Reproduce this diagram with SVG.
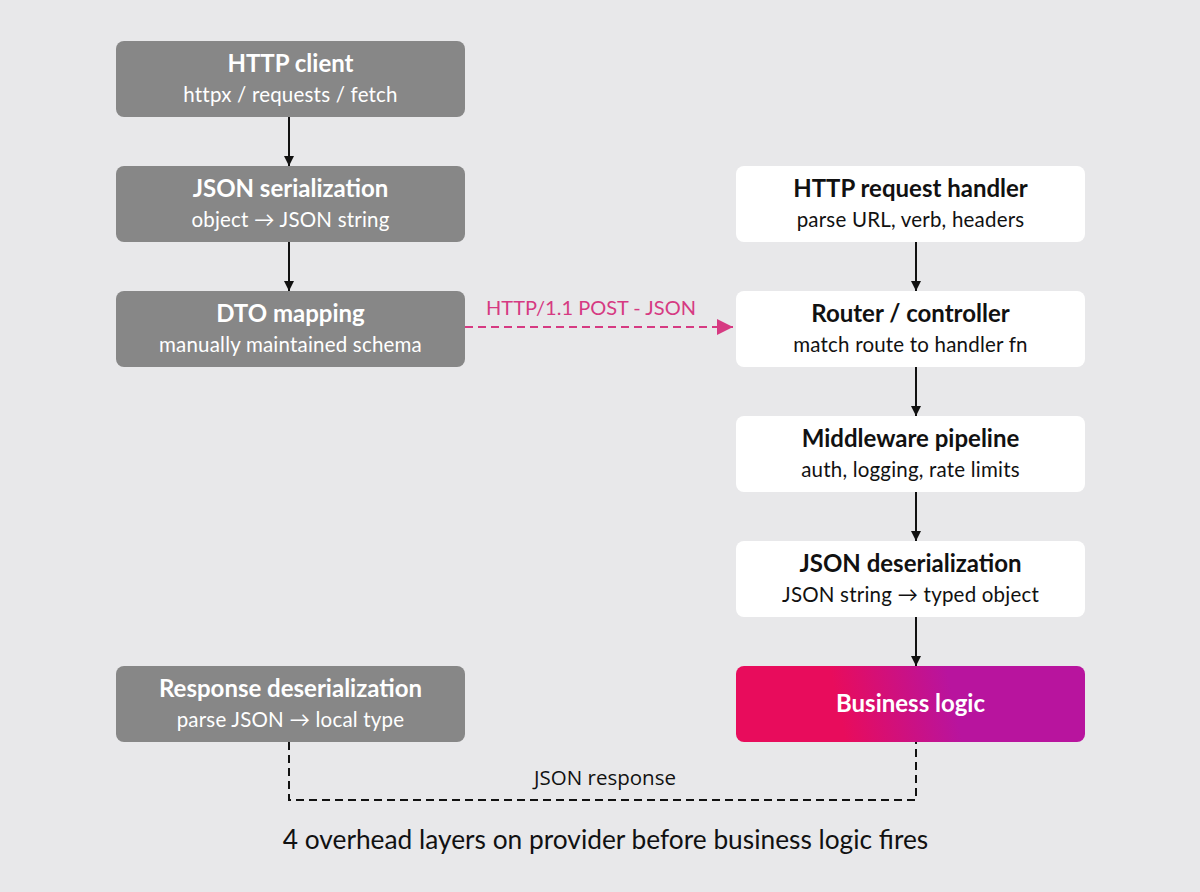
<svg xmlns="http://www.w3.org/2000/svg" width="1200" height="892" viewBox="0 0 1200 892">
<defs>
<linearGradient id="biz" x1="736" y1="742" x2="1085" y2="666" gradientUnits="userSpaceOnUse">
<stop offset="0" stop-color="#e80c5c"/>
<stop offset="0.3" stop-color="#e80c5c"/>
<stop offset="0.62" stop-color="#b8149e"/>
<stop offset="1" stop-color="#b8149e"/>
</linearGradient>
<marker id="ah" viewBox="0 0 10 10" refX="10" refY="5" markerWidth="10" markerHeight="10" markerUnits="userSpaceOnUse" orient="auto">
<path d="M0,0 L10,5 L0,10 z" fill="#111"/>
</marker>
<marker id="ahp" viewBox="0 0 16 16" refX="16" refY="8" markerWidth="16" markerHeight="16" markerUnits="userSpaceOnUse" orient="auto">
<path d="M0,0 L16,8 L0,16 z" fill="#d63a82"/>
</marker>
</defs>
<style>
.gray{fill:#878787}
.white{fill:#ffffff}
.t{font-family:Lato,"Noto Sans",sans-serif;font-weight:700;font-size:24px;text-anchor:middle}
.s{font-family:Lato,"Noto Sans",sans-serif;font-size:20.5px;letter-spacing:0.2px;text-anchor:middle}
.lw{fill:#ffffff}
.lb{fill:#111111}
.conn{stroke:#111;stroke-width:2;fill:none}
</style>
<rect width="1200" height="892" fill="#e8e8ea"/>
<g id="connectors">
<line class="conn" x1="289" y1="117" x2="289" y2="166" marker-end="url(#ah)"/>
<line class="conn" x1="289" y1="242" x2="289" y2="291" marker-end="url(#ah)"/>
<line class="conn" x1="916" y1="242" x2="916" y2="291" marker-end="url(#ah)"/>
<line class="conn" x1="916" y1="367" x2="916" y2="416" marker-end="url(#ah)"/>
<line class="conn" x1="916" y1="492" x2="916" y2="541" marker-end="url(#ah)"/>
<line class="conn" x1="916" y1="617" x2="916" y2="666" marker-end="url(#ah)"/>
<line x1="465" y1="327" x2="733" y2="327" stroke="#d63a82" stroke-width="2" stroke-dasharray="8,5" marker-end="url(#ahp)"/>
<text x="591" y="315" font-family="Lato,'Noto Sans',sans-serif" font-size="20" fill="#d63a82" text-anchor="middle">HTTP/1.1 POST - JSON</text>
<path d="M289,742 V800 H916 V742" class="conn" stroke-dasharray="8,5"/>
<text x="605" y="785" font-family="'Open Sans','Noto Sans',sans-serif" font-size="20.5" fill="#111" text-anchor="middle">JSON response</text>
</g>
<g id="http-client"><rect class="gray" x="116" y="41" width="349" height="76" rx="8"/><text class="t lw" x="290.5" y="72">HTTP client</text><text class="s lw" x="290.5" y="102">httpx / requests / fetch</text></g>
<g id="json-serialization"><rect class="gray" x="116" y="166" width="349" height="76" rx="8"/><text class="t lw" x="290.5" y="197">JSON serialization</text><text class="s lw" x="290.5" y="227">object → JSON string</text></g>
<g id="dto-mapping"><rect class="gray" x="116" y="291" width="349" height="76" rx="8"/><text class="t lw" x="290.5" y="322">DTO mapping</text><text class="s lw" x="290.5" y="352">manually maintained schema</text></g>
<g id="response-deserialization"><rect class="gray" x="116" y="666" width="349" height="76" rx="8"/><text class="t lw" x="290.5" y="697">Response deserialization</text><text class="s lw" x="290.5" y="727">parse JSON → local type</text></g>
<g id="http-request-handler"><rect class="white" x="736" y="166" width="349" height="76" rx="8"/><text class="t lb" x="910.5" y="197">HTTP request handler</text><text class="s lb" x="910.5" y="227">parse URL, verb, headers</text></g>
<g id="router-controller"><rect class="white" x="736" y="291" width="349" height="76" rx="8"/><text class="t lb" x="910.5" y="322">Router / controller</text><text class="s lb" x="910.5" y="352">match route to handler fn</text></g>
<g id="middleware-pipeline"><rect class="white" x="736" y="416" width="349" height="76" rx="8"/><text class="t lb" x="910.5" y="447">Middleware pipeline</text><text class="s lb" x="910.5" y="477">auth, logging, rate limits</text></g>
<g id="json-deserialization"><rect class="white" x="736" y="541" width="349" height="76" rx="8"/><text class="t lb" x="910.5" y="572">JSON deserialization</text><text class="s lb" x="910.5" y="602">JSON string → typed object</text></g>
<g id="business-logic"><rect fill="url(#biz)" x="736" y="666" width="349" height="76" rx="8"/><text class="t lw" x="910.5" y="712">Business logic</text></g>
<text x="605.5" y="849" font-family="Lato,'Noto Sans',sans-serif" font-size="26.3" fill="#111" text-anchor="middle">4 overhead layers on provider before business logic fires</text>
</svg>
